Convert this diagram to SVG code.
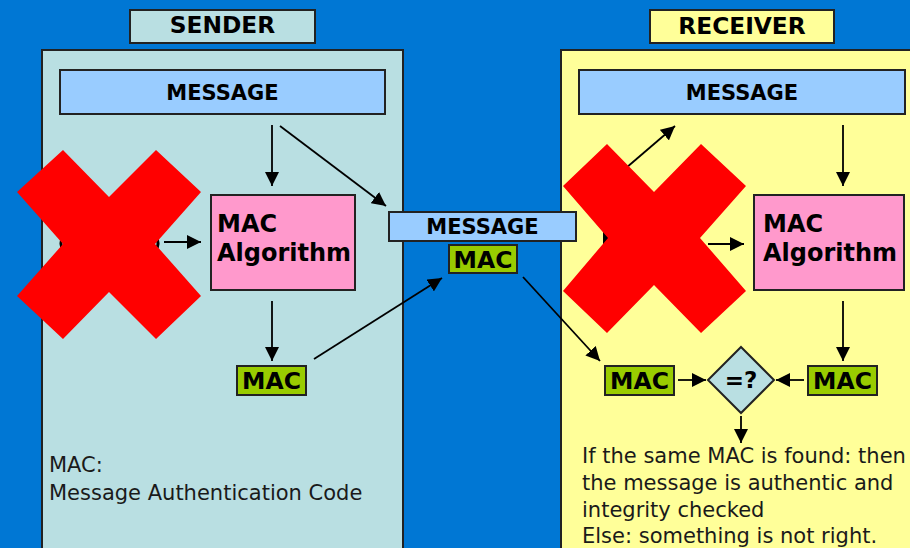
<svg xmlns="http://www.w3.org/2000/svg" width="910" height="548" viewBox="0 0 910 548">
<style>
.box{stroke:#222;stroke-width:2}
.b{font-family:"DejaVu Sans","Liberation Sans",sans-serif;font-weight:bold;fill:#000}
.t{font-family:"DejaVu Sans","Liberation Sans",sans-serif;font-size:21px;fill:#1a1a1a}
.msg{fill:#99ccff}
.mac{fill:#99cc00}
.alg{fill:#ff99cc}
.c{stroke:#000;stroke-width:1.8;fill:none;marker-end:url(#ah)}
.x{fill:#ff0000}
</style>
<defs>
<marker id="ah" markerUnits="userSpaceOnUse" markerWidth="16" markerHeight="14" refX="14" refY="7" orient="auto">
<path d="M0,0 L14,7 L0,14 Z" fill="#000"/>
</marker>
</defs>
<rect x="0" y="0" width="910" height="548" fill="#0077d4"/>

<g id="sender-panel">
<rect class="box" x="42" y="50" width="361" height="510" fill="#b9dfe2"/>
</g>
<g id="receiver-panel">
<rect class="box" x="561" y="50" width="360" height="510" fill="#ffff99"/>
</g>
<g id="sender-title">
<rect class="box" x="130" y="10" width="185" height="33" fill="#b9dfe2"/>
<text class="b" x="222.5" y="33" font-size="23.3" text-anchor="middle">SENDER</text>
</g>
<g id="receiver-title">
<rect class="box" x="650" y="10" width="184" height="33" fill="#ffff99"/>
<text class="b" x="742" y="34" font-size="23.3" text-anchor="middle">RECEIVER</text>
</g>

<g id="sender-message">
<rect class="box msg" x="60" y="70" width="325" height="44"/>
<text class="b" x="222.5" y="100" font-size="21" text-anchor="middle">MESSAGE</text>
</g>
<g id="sender-mac-algorithm">
<rect class="box alg" x="211" y="195" width="144" height="95"/>
<text class="b" x="217" y="232" font-size="24">MAC</text>
<text class="b" x="217" y="261" font-size="24">Algorithm</text>
</g>
<g id="sender-mac">
<rect class="box mac" x="237" y="366" width="69" height="29"/>
<text class="b" x="271.5" y="389" font-size="23.5" text-anchor="middle">MAC</text>
</g>
<g id="sender-note">
<text class="t" x="49" y="472">MAC:</text>
<text class="t" x="49" y="500">Message Authentication Code</text>
</g>

<g id="sender-hidden">
<rect x="61" y="234" width="97" height="19" rx="9" fill="none" stroke="#000" stroke-width="3"/>
</g>
<g id="receiver-hidden">
<path d="M603,231 L603,247 L611,239 Z" fill="#000"/>
</g>

<g id="transit-message">
<rect class="box msg" x="389" y="212" width="187" height="29"/>
<text class="b" x="482.5" y="234" font-size="21" text-anchor="middle">MESSAGE</text>
</g>
<g id="transit-mac">
<rect class="box mac" x="449" y="245" width="68" height="28"/>
<text class="b" x="483" y="268" font-size="23.5" text-anchor="middle">MAC</text>
</g>

<g id="receiver-message">
<rect class="box msg" x="579" y="70" width="326" height="44"/>
<text class="b" x="742" y="100" font-size="21" text-anchor="middle">MESSAGE</text>
</g>
<g id="receiver-mac-algorithm">
<rect class="box alg" x="754" y="195" width="150" height="95"/>
<text class="b" x="763" y="232" font-size="24">MAC</text>
<text class="b" x="763" y="261" font-size="24">Algorithm</text>
</g>
<g id="receiver-mac-received">
<rect class="box mac" x="605" y="366" width="69" height="29"/>
<text class="b" x="639.5" y="389" font-size="23.5" text-anchor="middle">MAC</text>
</g>
<g id="receiver-mac-computed">
<rect class="box mac" x="808" y="366" width="69" height="29"/>
<text class="b" x="842.5" y="389" font-size="23.5" text-anchor="middle">MAC</text>
</g>
<g id="compare">
<path class="box" d="M741,347 L774,380 L741,413 L708,380 Z" fill="#b9dfe2"/>
<text class="b" x="741" y="388" font-size="23" text-anchor="middle">=?</text>
</g>
<g id="receiver-note">
<text class="t" x="582" y="463">If the same MAC is found: then</text>
<text class="t" x="582" y="490">the message is authentic and</text>
<text class="t" x="582" y="517">integrity checked</text>
<text class="t" x="582" y="543">Else: something is not right.</text>
</g>

<g id="connectors">
<path class="c" d="M272,125 L272,186"/>
<path class="c" d="M280,126 L386,206"/>
<path class="c" d="M164,242 L201,242"/>
<path class="c" d="M272,301 L272,361"/>
<path class="c" d="M314,359 L442,278"/>
<path class="c" d="M523,277 L600,361"/>
<path class="c" d="M612,180 L675,126"/>
<path class="c" d="M708,244 L744,244"/>
<path class="c" d="M843,125 L843,186"/>
<path class="c" d="M843,301 L843,361"/>
<path class="c" d="M678,380 L706,380"/>
<path class="c" d="M804,380 L776,380"/>
<path class="c" d="M741,416 L741,443"/>
</g>

<g id="cross-left">
<polygon class="x" points="63,150 109,197 156,150 201,192 155,244 201,296 156,339 109,292 63,339 17,296 63,244 17,192"/>
</g>
<g id="cross-right">
<polygon class="x" points="607,144 654,192 701,144 746,186 700,238 746,291 701,333 654,285 607,333 563,291 608,238 563,186"/>
</g>
</svg>
